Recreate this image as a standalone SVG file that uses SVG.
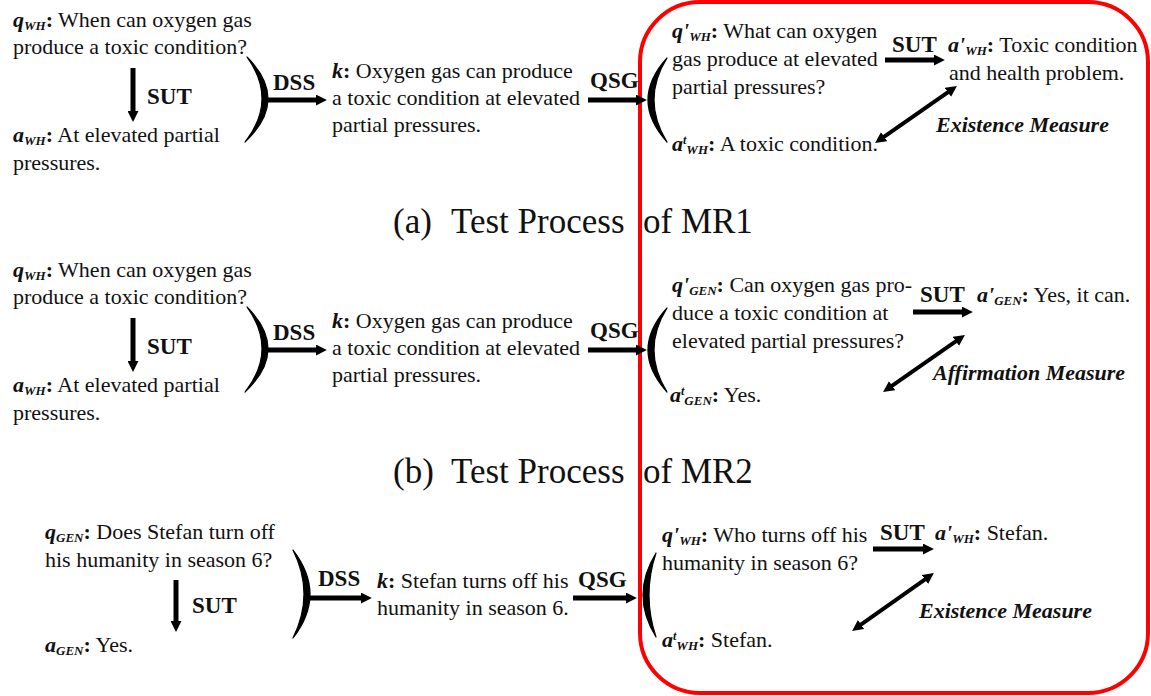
<svg xmlns="http://www.w3.org/2000/svg" width="1151" height="696" viewBox="0 0 1151 696">
<defs>
<style>
text{font-family:"Liberation Serif","Times New Roman",serif;font-size:22px;fill:#111}
.bi{font-weight:bold;font-style:italic}
.b{font-weight:bold}
.sub{font-size:13px;font-weight:bold;font-style:italic}
.sup{font-size:12px;font-weight:bold;font-style:italic}
.lbl{font-weight:bold;font-size:23px}
.meas{font-weight:bold;font-style:italic}
.cap{font-size:35px}
.arr{stroke:#000;stroke-width:5;fill:none}
.darr{stroke:#000;stroke-width:4;fill:none}
.br{fill:#000;stroke:#000;stroke-width:1.2;stroke-linejoin:round}
</style>
<marker id="ah" viewBox="0 0 10 10" refX="1" refY="5" markerWidth="11" markerHeight="11" markerUnits="userSpaceOnUse" orient="auto-start-reverse"><path d="M0,0 L10,5 L0,10 z" fill="#000"/></marker>
</defs>
<rect id="highlight" x="640" y="2" width="508" height="691" rx="60" ry="60" fill="none" stroke="#f00" stroke-width="4"/>

<!-- (a) -->
<g id="a-q">
<text x="13" y="27"><tspan class="bi">q</tspan><tspan class="sub" dy="3">WH</tspan><tspan class="b" dy="-3">:</tspan> When can oxygen gas</text>
<text x="13" y="54">produce a toxic condition?</text>
</g>
<g id="a-a">
<text x="13" y="142"><tspan class="bi">a</tspan><tspan class="sub" dy="3">WH</tspan><tspan class="b" dy="-3">:</tspan> At elevated partial</text>
<text x="13" y="170">pressures.</text>
</g>
<g id="a-k">
<text x="332" y="78"><tspan class="bi">k</tspan><tspan class="b">:</tspan> Oxygen gas can produce</text>
<text x="332" y="105">a toxic condition at elevated</text>
<text x="332" y="132">partial pressures.</text>
</g>
<g id="a-qp">
<text x="672" y="38"><tspan class="bi">q'</tspan><tspan class="sub" dy="3">WH</tspan><tspan class="b" dy="-3">:</tspan> What can oxygen</text>
<text x="672" y="66">gas produce at elevated</text>
<text x="672" y="94">partial pressures?</text>
</g>
<g id="a-ap">
<text x="948" y="52"><tspan class="bi">a'</tspan><tspan class="sub" dy="3">WH</tspan><tspan class="b" dy="-3">:</tspan> Toxic condition</text>
<text x="949" y="80">and health problem.</text>
</g>
<g id="a-at">
<text x="672" y="151"><tspan class="bi">a</tspan><tspan class="sup" dy="-7">t</tspan><tspan class="sub" dy="10">WH</tspan><tspan class="b" dy="-3">:</tspan> A toxic condition.</text>
</g>
<g id="a-cap">
<text class="cap" x="393" y="233">(a)</text>
<text class="cap" x="451" y="233">Test Process</text>
<text class="cap" x="643" y="233">of MR1</text>
</g>

<!-- (b) -->
<g id="b-q">
<text x="13" y="277"><tspan class="bi">q</tspan><tspan class="sub" dy="3">WH</tspan><tspan class="b" dy="-3">:</tspan> When can oxygen gas</text>
<text x="13" y="304">produce a toxic condition?</text>
</g>
<g id="b-a">
<text x="13" y="392"><tspan class="bi">a</tspan><tspan class="sub" dy="3">WH</tspan><tspan class="b" dy="-3">:</tspan> At elevated partial</text>
<text x="13" y="420">pressures.</text>
</g>
<g id="b-k">
<text x="332" y="328"><tspan class="bi">k</tspan><tspan class="b">:</tspan> Oxygen gas can produce</text>
<text x="332" y="355">a toxic condition at elevated</text>
<text x="332" y="382">partial pressures.</text>
</g>
<g id="b-qp">
<text x="672" y="292"><tspan class="bi">q'</tspan><tspan class="sub" dy="3">GEN</tspan><tspan class="b" dy="-3">:</tspan> Can oxygen gas pro-</text>
<text x="672" y="320">duce a toxic condition at</text>
<text x="672" y="348">elevated partial pressures?</text>
</g>
<g id="b-ap">
<text x="977" y="302"><tspan class="bi">a'</tspan><tspan class="sub" dy="3">GEN</tspan><tspan class="b" dy="-3">:</tspan> Yes, it can.</text>
</g>
<g id="b-at">
<text x="670" y="402"><tspan class="bi">a</tspan><tspan class="sup" dy="-7">t</tspan><tspan class="sub" dy="10">GEN</tspan><tspan class="b" dy="-3">:</tspan> Yes.</text>
</g>
<g id="b-cap">
<text class="cap" x="393" y="483">(b)</text>
<text class="cap" x="451" y="483">Test Process</text>
<text class="cap" x="643" y="483">of MR2</text>
</g>

<!-- (c) -->
<g id="c-q">
<text x="45" y="539"><tspan class="bi">q</tspan><tspan class="sub" dy="3">GEN</tspan><tspan class="b" dy="-3">:</tspan> Does Stefan turn off</text>
<text x="45" y="567">his humanity in season 6?</text>
</g>
<g id="c-a">
<text x="45" y="652"><tspan class="bi">a</tspan><tspan class="sub" dy="3">GEN</tspan><tspan class="b" dy="-3">:</tspan> Yes.</text>
</g>
<g id="c-k">
<text x="377" y="588"><tspan class="bi">k</tspan><tspan class="b">:</tspan> Stefan turns off his</text>
<text x="377" y="615">humanity in season 6.</text>
</g>
<g id="c-qp">
<text x="662" y="542"><tspan class="bi">q'</tspan><tspan class="sub" dy="3">WH</tspan><tspan class="b" dy="-3">:</tspan> Who turns off his</text>
<text x="662" y="570">humanity in season 6?</text>
</g>
<g id="c-ap">
<text x="935" y="540"><tspan class="bi">a'</tspan><tspan class="sub" dy="3">WH</tspan><tspan class="b" dy="-3">:</tspan> Stefan.</text>
</g>
<g id="c-at">
<text x="662" y="647"><tspan class="bi">a</tspan><tspan class="sup" dy="-7">t</tspan><tspan class="sub" dy="10">WH</tspan><tspan class="b" dy="-3">:</tspan> Stefan.</text>
</g>

<!-- connectors -->
<g id="connectors">
<!-- brackets -->
<path class="br" d="M247,57 Q290,100 245,142 Q278,100 247,57 Z"/>
<path class="br" d="M667,58 Q629,100 667,142 Q641,100 667,58 Z"/>
<path class="br" d="M247,307 Q290,350 245,392 Q278,350 247,307 Z"/>
<path class="br" d="M667,308 Q629,350 667,392 Q641,350 667,308 Z"/>
<path class="br" d="M293,550 Q327,594 293,638 Q315,594 293,550 Z"/>
<path class="br" d="M656,553 Q630,595 656,637 Q642,595 656,553 Z"/>
<!-- (a) -->
<line class="arr" x1="133" y1="68" x2="133" y2="112" marker-end="url(#ah)"/>
<line class="arr" x1="266" y1="100" x2="317" y2="100" marker-end="url(#ah)"/>
<line class="arr" x1="588" y1="100" x2="637" y2="100" marker-end="url(#ah)"/>
<line class="arr" x1="885" y1="60" x2="935" y2="60" marker-end="url(#ah)"/>
<line class="darr" x1="883.2" y1="137.3" x2="948.8" y2="91.7" marker-start="url(#ah)" marker-end="url(#ah)"/>
<!-- (b) -->
<line class="arr" x1="133" y1="318" x2="133" y2="362" marker-end="url(#ah)"/>
<line class="arr" x1="266" y1="350" x2="317" y2="350" marker-end="url(#ah)"/>
<line class="arr" x1="588" y1="350" x2="637" y2="350" marker-end="url(#ah)"/>
<line class="arr" x1="913" y1="312" x2="963" y2="312" marker-end="url(#ah)"/>
<line class="darr" x1="891.2" y1="386.3" x2="956.8" y2="340.7" marker-start="url(#ah)" marker-end="url(#ah)"/>
<!-- (c) -->
<line class="arr" x1="176" y1="580" x2="176" y2="622" marker-end="url(#ah)"/>
<line class="arr" x1="309" y1="598" x2="362" y2="598" marker-end="url(#ah)"/>
<line class="arr" x1="573" y1="598" x2="627" y2="598" marker-end="url(#ah)"/>
<line class="arr" x1="873" y1="549" x2="924" y2="549" marker-end="url(#ah)"/>
<line class="darr" x1="860.2" y1="625.2" x2="925.8" y2="578.8" marker-start="url(#ah)" marker-end="url(#ah)"/>
</g>

<!-- edge labels -->
<g id="labels">
<text class="lbl" x="147" y="104">SUT</text>
<text class="lbl" x="273" y="90">DSS</text>
<text class="lbl" x="590" y="88">QSG</text>
<text class="lbl" x="892" y="52">SUT</text>
<text class="meas" x="936" y="132">Existence Measure</text>
<text class="lbl" x="147" y="354">SUT</text>
<text class="lbl" x="273" y="340">DSS</text>
<text class="lbl" x="590" y="338">QSG</text>
<text class="lbl" x="920" y="302">SUT</text>
<text class="meas" x="933" y="380">Affirmation Measure</text>
<text class="lbl" x="192" y="613">SUT</text>
<text class="lbl" x="318" y="586">DSS</text>
<text class="lbl" x="578" y="587">QSG</text>
<text class="lbl" x="880" y="540">SUT</text>
<text class="meas" x="919" y="618">Existence Measure</text>
</g>
</svg>
